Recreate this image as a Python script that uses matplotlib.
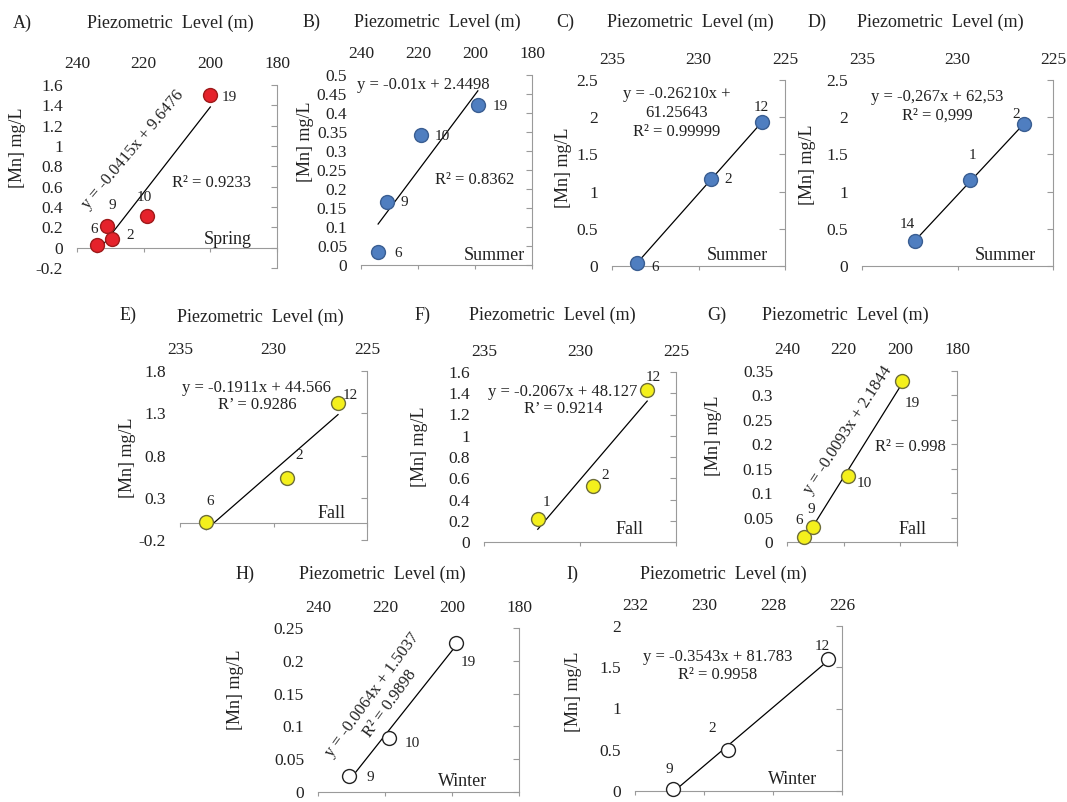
import numpy as np
import matplotlib.pyplot as plt

plt.rcParams['font.family'] = ['Liberation Serif', 'DejaVu Serif']

W, H = 1067, 802

# values: site number, piezometric level (m), [Mn] (mg/L)
a_sites = ['6', '9', '2', '10', '19']
a_level = [234, 231, 229.5, 219, 200]
a_mn = [0.03, 0.21, 0.09, 0.31, 1.5]

b_sites = ['6', '9', '10', '19']
b_level = [234, 231, 219, 199]
b_mn = [0.035, 0.165, 0.342, 0.42]

c_sites = ['6', '2', '12']
c_level = [233.55, 229.25, 226.35]
c_mn = [0.04, 1.17, 1.93]

d_sites = ['14', '1', '2']
d_level = [232.2, 229.35, 226.5]
d_mn = [0.34, 1.15, 1.91]

e_sites = ['6', '2', '12']
e_level = [233.6, 229.3, 226.55]
e_mn = [0.01, 0.53, 1.42]

f_sites = ['1', '2', '12']
f_level = [232.2, 229.3, 226.5]
f_mn = [0.22, 0.53, 1.43]

g_sites = ['6', '9', '10', '19']
g_level = [234, 230.9, 218.6, 199.3]
g_mn = [0.01, 0.03, 0.135, 0.33]

h_sites = ['9', '10', '19']
h_level = [230.7, 218.7, 198.9]
h_mn = [0.025, 0.083, 0.227]

i_sites = ['9', '2', '12']
i_level = [230.9, 229.3, 226.4]
i_mn = [0.02, 0.5, 1.6]

# axis ticks
xt_wide = [240, 220, 200, 180]
xt_narrow = [235, 230, 225]
xt_i = [232, 230, 228, 226]
yt_a = [-0.2, 0, 0.2, 0.4, 0.6, 0.8, 1, 1.2, 1.4, 1.6]
yt_b = [0, 0.05, 0.1, 0.15, 0.2, 0.25, 0.3, 0.35, 0.4, 0.45, 0.5]
yt_cd = [0, 0.5, 1, 1.5, 2, 2.5]
yt_e = [-0.2, 0.3, 0.8, 1.3, 1.8]
yt_f = [0, 0.2, 0.4, 0.6, 0.8, 1, 1.2, 1.4, 1.6]
yt_g = [0, 0.05, 0.1, 0.15, 0.2, 0.25, 0.3, 0.35]
yt_h = [0, 0.05, 0.1, 0.15, 0.2, 0.25]
yt_i = [0, 0.5, 1, 1.5, 2]

season_style = {
    'Spring': dict(c='#E5222B', edgecolors='#9E1A1A'),
    'Summer': dict(c='#4F7EC0', edgecolors='#3A5E92'),
    'Fall': dict(c='#F4F01C', edgecolors='#6E6E3A'),
    'Winter': dict(c='white', edgecolors='#222222'),
}

GRAY = '#9a9a9a'
TXT = '#222222'

# layout in pixels: box = (left, right, top, bottom)
panels = [
    dict(tag='A)', season='Spring', x=a_level, y=a_mn, s=a_sites, xt=xt_wide, yt=yt_a,
         box=(77, 277, 85, 268), tagxy=(22, 23), titlexy=(170, 23), ylab=(18, 148),
         off=[(-3, 15), (5, 21), (18, 3), (-3, 19), (19, -2)], seasxy=(228, 239),
         eq=[('y = -0.0415x + 9.6476', (133, 150), 50), ('R² = 0.9233', (212, 183), 0)]),
    dict(tag='B)', season='Summer', x=b_level, y=b_mn, s=b_sites, xt=xt_wide, yt=yt_b,
         box=(361, 532, 75, 265), tagxy=(312, 22), titlexy=(437, 22), ylab=(305, 142),
         off=[(20, -2), (18, 0), (21, -1), (22, -1)], seasxy=(494, 256),
         eq=[('y = -0.01x + 2.4498', (423, 85), 0), ('R² = 0.8362', (475, 180), 0)]),
    dict(tag='C)', season='Summer', x=c_level, y=c_mn, s=c_sites, xt=xt_narrow, yt=yt_cd,
         box=(612, 785, 80, 266), tagxy=(565, 22), titlexy=(690, 22), ylab=(563, 168),
         off=[(18, -4), (17, -1), (0, 15)], seasxy=(737, 256),
         eq=[('y = -0.26210x +', (677, 94), 0), ('61.25643', (677, 113), 0),
             ('R² = 0.99999', (677, 132), 0)]),
    dict(tag='D)', season='Summer', x=d_level, y=d_mn, s=d_sites, xt=xt_narrow, yt=yt_cd,
         box=(862, 1053, 80, 266), tagxy=(817, 22), titlexy=(940, 22), ylab=(808, 165),
         off=[(-8, 16), (3, 25), (-8, 9)], seasxy=(1005, 256),
         eq=[('y = -0,267x + 62,53', (937, 97), 0), ('R² = 0,999', (937, 116), 0)]),
    dict(tag='E)', season='Fall', x=e_level, y=e_mn, s=e_sites, xt=xt_narrow, yt=yt_e,
         box=(180, 367, 371, 540), tagxy=(128, 315), titlexy=(260, 317), ylab=(128, 458),
         off=[(4, 21), (13, 23), (12, 8)], seasxy=(332, 513),
         eq=[('y = -0.1911x + 44.566', (257, 388), 0), ('R’ = 0.9286', (257, 405), 0)]),
    dict(tag='F)', season='Fall', x=f_level, y=f_mn, s=f_sites, xt=xt_narrow, yt=yt_f,
         box=(484, 676, 372, 542), tagxy=(423, 315), titlexy=(552, 315), ylab=(420, 447),
         off=[(9, 16), (12, 10), (6, 13)], seasxy=(630, 530),
         eq=[('y = -0.2067x + 48.127', (563, 392), 0), ('R’ = 0.9214', (563, 409), 0)]),
    dict(tag='G)', season='Fall', x=g_level, y=g_mn, s=g_sites, xt=xt_wide, yt=yt_g,
         box=(787, 957, 371, 542), tagxy=(717, 315), titlexy=(845, 315), ylab=(713, 436),
         off=[(-5, 17), (-1, 18), (17, -7), (10, -23)], seasxy=(913, 530),
         eq=[('y = -0.0093x + 2.1844', (848, 430), 57), ('R² = 0.998', (910, 447), 0)]),
    dict(tag='H)', season='Winter', x=h_level, y=h_mn, s=h_sites, xt=xt_wide, yt=yt_h,
         box=(318, 519, 628, 792), tagxy=(245, 574), titlexy=(382, 574), ylab=(236, 690),
         off=[(21, -2), (23, -6), (13, -19)], seasxy=(463, 782),
         eq=[('y = -0.0064x + 1.5037', (372, 695), 54), ('R² = 0.9898', (390, 704), 54)]),
    dict(tag='I)', season='Winter', x=i_level, y=i_mn, s=i_sites, xt=xt_i, yt=yt_i,
         box=(635, 842, 626, 791), tagxy=(572, 574), titlexy=(723, 574), ylab=(573, 692),
         off=[(-4, 20), (-16, 21), (-6, 12)], seasxy=(793, 779),
         eq=[('y = -0.3543x + 81.783', (718, 657), 0), ('R² = 0.9958', (718, 675), 0)]),
]


def fx(px):
    return px / W


def fy(py):
    return 1 - py / H


fig = plt.figure(figsize=(W / 100, H / 100), dpi=100)

for p in panels:
    l, r, t, b = p['box']
    ax = fig.add_axes([fx(l), fy(b), fx(r) - fx(l), fy(t) - fy(b)])
    ax.patch.set_alpha(0)
    xt, yt = p['xt'], p['yt']
    ax.set_xlim(xt[0], xt[-1])
    ax.set_ylim(yt[0], yt[-1])

    for side in ['top', 'left']:
        ax.spines[side].set_visible(False)
    ax.spines['right'].set_color(GRAY)
    ax.spines['bottom'].set_color(GRAY)
    ax.spines['bottom'].set_position(('data', 0))

    ax.set_xticks(xt)
    ax.set_xticklabels(['%g' % v for v in xt])
    ax.set_yticks(yt)
    ax.set_yticklabels(['%g' % v for v in yt])
    ax.tick_params(axis='x', bottom=True, top=False, labelbottom=False, labeltop=True,
                   direction='out', length=3, color=GRAY, pad=6, labelsize=12.5,
                   labelcolor=TXT)
    ax.tick_params(axis='y', left=False, right=True, labelleft=True, labelright=False,
                   direction='in', length=4, color=GRAY, pad=10, labelsize=12.5,
                   labelcolor=TXT)

    x = np.array(p['x'])
    y = np.array(p['y'])
    coef = np.polyfit(x, y, 1)
    xs = np.array([x.min(), x.max()])
    ax.plot(xs, np.polyval(coef, xs), color='black', lw=0.9, zorder=2)
    ax.scatter(x, y, s=100, linewidths=1, zorder=3, clip_on=False,
               **season_style[p['season']])

    for name, xi, yi, (dx, dy) in zip(p['s'], x, y, p['off']):
        ax.annotate(name, (xi, yi), xytext=(dx, dy), textcoords='offset pixels',
                    ha='center', va='center', fontsize=11, color=TXT)

    for txt, (ex, ey), rot in p['eq']:
        fig.text(fx(ex), fy(ey), txt, ha='center', va='center', rotation=rot,
                 rotation_mode='anchor', fontsize=12, color=TXT)

    fig.text(fx(p['seasxy'][0]), fy(p['seasxy'][1]), p['season'], ha='center',
             va='center', fontsize=13, color=TXT)
    fig.text(fx(p['tagxy'][0]), fy(p['tagxy'][1]), p['tag'], ha='center', va='center',
             fontsize=13, color=TXT)
    fig.text(fx(p['titlexy'][0]), fy(p['titlexy'][1]), 'Piezometric  Level (m)',
             ha='center', va='center', fontsize=13, color=TXT)
    fig.text(fx(p['ylab'][0]), fy(p['ylab'][1]), '[Mn] mg/L', ha='center', va='center',
             rotation=90, fontsize=13, color=TXT)

fig.savefig('out.png', dpi=100)
